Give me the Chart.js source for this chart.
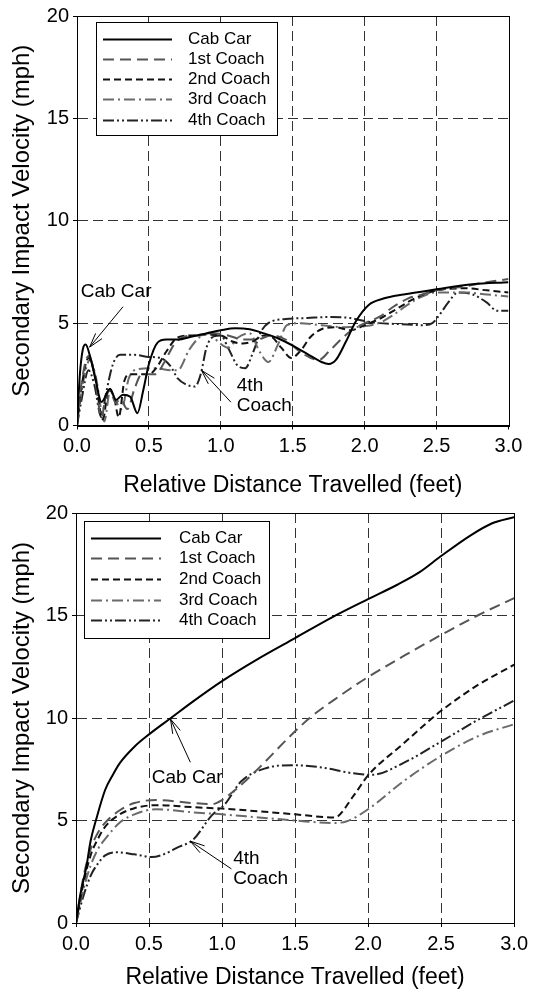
<!DOCTYPE html>
<html>
<head>
<meta charset="utf-8">
<script src="https://cdn.jsdelivr.net/npm/chart.js@4.4.0/dist/chart.umd.min.js"></script>
<style>
  body { margin: 0; background: #fff; }
  canvas { display: block; }
</style>
</head>
<body>
<canvas id="chartTop" width="533" height="497"></canvas>
<canvas id="chartBottom" width="533" height="498"></canvas>
<script>
const FONT = "'Liberation Sans', Arial, sans-serif";

const seriesNames = ['Cab Car', '1st Coach', '2nd Coach', '3rd Coach', '4th Coach'];
const seriesColors = ['#000000', '#555555', '#111111', '#6a6a6a', '#222222'];
const seriesDash = [[], [11, 6], [7, 4], [11, 4, 2, 4], [11, 3, 2, 3, 2, 3]];
const xTicks = [0, 0.5, 1, 1.5, 2, 2.5, 3];
const yTicks = [0, 5, 10, 15, 20];
const xTitle = 'Relative Distance Travelled (feet)';
const yTitle = 'Secondary Impact Velocity (mph)';

// top chart
const topCabX = [0, 0.02, 0.04, 0.06, 0.09, 0.13, 0.17, 0.23, 0.27, 0.32, 0.37, 0.42, 0.46, 0.5, 0.56, 0.62, 0.7, 0.8, 0.9, 1.0, 1.1, 1.2, 1.3, 1.4, 1.5, 1.6, 1.7, 1.75, 1.8, 1.87, 1.94, 2.03, 2.13, 2.27, 2.5, 2.75, 3.0];
const topCabY = [0, 2.5, 3.7, 3.95, 3.4, 2.2, 1.15, 1.8, 1.25, 1.5, 1.4, 0.6, 1.7, 3.0, 4.05, 4.2, 4.2, 4.35, 4.5, 4.65, 4.75, 4.7, 4.5, 4.25, 3.9, 3.5, 3.1, 3.0, 3.2, 4.1, 5.1, 5.9, 6.2, 6.4, 6.65, 6.9, 7.0];
const top1stX = [0, 0.03, 0.08, 0.12, 0.17, 0.2, 0.23, 0.27, 0.3, 0.35, 0.4, 0.45, 0.55, 0.6, 0.68, 0.75, 0.85, 0.95, 1.05, 1.15, 1.25, 1.35, 1.45, 1.55, 1.68, 1.75, 1.82, 1.9, 2.0, 2.1, 2.2, 2.3, 2.4, 2.5, 2.7, 2.85, 3.0];
const top1stY = [0, 2.0, 3.4, 2.6, 0.4, 1.4, 1.7, 1.1, 1.3, 0.8, 1.8, 2.5, 2.5, 3.0, 4.0, 4.35, 4.4, 4.5, 4.4, 4.2, 4.2, 4.4, 4.2, 3.6, 3.2, 3.6, 4.1, 4.6, 5.0, 5.3, 5.8, 6.2, 6.4, 6.6, 6.8, 7.0, 7.15];
const top2ndX = [0, 0.03, 0.08, 0.12, 0.18, 0.22, 0.26, 0.29, 0.33, 0.37, 0.5, 0.55, 0.62, 0.7, 0.8, 0.9, 1.0, 1.08, 1.15, 1.22, 1.3, 1.36, 1.42, 1.49, 1.56, 1.62, 1.7, 1.8, 1.9, 2.0, 2.1, 2.2, 2.36, 2.5, 2.7, 2.85, 3.0];
const top2ndY = [0, 1.8, 3.3, 2.6, 0.3, 1.8, 1.3, 0.4, 2.2, 2.5, 2.5, 2.8, 3.6, 4.3, 4.4, 4.45, 4.4, 4.1, 4.0, 4.1, 4.4, 4.3, 3.8, 3.3, 3.7, 4.3, 4.7, 4.8, 4.65, 4.9, 5.2, 5.6, 6.25, 6.6, 6.7, 6.6, 6.5];
const top3rdX = [0, 0.03, 0.09, 0.13, 0.19, 0.23, 0.27, 0.31, 0.36, 0.42, 0.55, 0.65, 0.7, 0.78, 0.85, 0.92, 0.98, 1.05, 1.12, 1.2, 1.27, 1.33, 1.4, 1.46, 1.55, 1.7, 1.85, 2.0, 2.1, 2.2, 2.3, 2.4, 2.5, 2.7, 2.85, 3.0];
const top3rdY = [0, 1.6, 3.2, 2.4, 0.2, 1.7, 1.2, 0.8, 2.3, 2.75, 2.8, 2.7, 2.7, 3.7, 4.3, 4.5, 4.1, 3.8, 4.3, 4.5, 3.6, 3.1, 4.0, 4.9, 5.0, 4.9, 4.8, 4.85, 5.0, 5.4, 5.9, 6.3, 6.5, 6.5, 6.4, 6.3];
const top4thX = [0, 0.03, 0.08, 0.12, 0.17, 0.2, 0.25, 0.3, 0.4, 0.5, 0.58, 0.65, 0.7, 0.76, 0.82, 0.86, 0.9, 0.95, 1.0, 1.05, 1.12, 1.17, 1.22, 1.28, 1.33, 1.45, 1.6, 1.75, 1.9, 2.0, 2.1, 2.25, 2.4, 2.47, 2.52, 2.58, 2.65, 2.75, 2.85, 2.92, 3.0];
const top4thY = [0, 1.2, 2.7, 2.0, 0.4, 1.5, 3.0, 3.45, 3.45, 3.35, 3.3, 2.9, 2.3, 2.0, 1.9, 2.5, 3.8, 4.35, 4.4, 3.8, 2.9, 2.8, 3.5, 4.6, 5.0, 5.2, 5.25, 5.3, 5.25, 5.1, 5.0, 4.95, 4.9, 5.0, 5.4, 6.0, 6.5, 6.4, 6.0, 5.6, 5.6];

// bottom chart
const botCabX = [0, 0.03, 0.07, 0.1, 0.14, 0.2, 0.25, 0.3, 0.4, 0.5, 0.65, 0.8, 1.0, 1.25, 1.5, 1.75, 2.0, 2.2, 2.35, 2.5, 2.7, 2.85, 3.0];
const botCabY = [0, 1.4, 2.7, 4.0, 5.1, 6.5, 7.2, 7.8, 8.6, 9.2, 10.0, 10.8, 11.8, 12.9, 13.9, 14.9, 15.8, 16.5, 17.1, 17.9, 18.9, 19.5, 19.8];
const bot1stX = [0, 0.05, 0.1, 0.15, 0.2, 0.3, 0.4, 0.55, 0.8, 0.93, 1.0, 1.1, 1.2, 1.3, 1.45, 1.6, 1.8, 2.0, 2.25, 2.5, 2.75, 3.0];
const bot1stY = [0, 2.2, 3.6, 4.4, 4.9, 5.5, 5.85, 6.0, 5.85, 5.8, 6.0, 6.55, 7.2, 7.9, 9.0, 10.0, 11.05, 12.0, 13.05, 14.05, 15.0, 15.85];
const bot2ndX = [0, 0.05, 0.1, 0.15, 0.2, 0.3, 0.4, 0.55, 0.8, 1.0, 1.25, 1.5, 1.77, 1.9, 2.0, 2.25, 2.44, 2.5, 2.75, 3.0];
const bot2ndY = [0, 1.9, 3.3, 4.1, 4.7, 5.3, 5.6, 5.75, 5.65, 5.58, 5.45, 5.3, 5.15, 6.2, 7.2, 8.8, 10.0, 10.35, 11.6, 12.6];
const bot3rdX = [0, 0.05, 0.1, 0.15, 0.2, 0.3, 0.4, 0.55, 0.8, 1.0, 1.25, 1.5, 1.75, 1.85, 2.0, 2.24, 2.5, 2.75, 3.0];
const bot3rdY = [0, 1.6, 2.8, 3.6, 4.1, 4.9, 5.3, 5.55, 5.4, 5.3, 5.15, 5.0, 4.88, 4.95, 5.55, 6.9, 8.15, 9.1, 9.7];
const bot4thX = [0, 0.05, 0.1, 0.15, 0.2, 0.27, 0.4, 0.52, 0.6, 0.7, 0.8, 0.93, 1.02, 1.13, 1.3, 1.48, 1.67, 1.9, 2.03, 2.24, 2.5, 2.75, 3.0];
const bot4thY = [0, 1.3, 2.3, 2.9, 3.3, 3.45, 3.35, 3.22, 3.35, 3.7, 4.05, 5.25, 5.8, 6.9, 7.55, 7.7, 7.6, 7.3, 7.23, 7.8, 8.85, 9.9, 10.85];

function makeSets(xsList, ysList) {
  return seriesNames.map((name, i) => ({
    label: name,
    data: xsList[i].map((x, k) => ({ x: x, y: ysList[i][k] })),
    borderColor: seriesColors[i],
    backgroundColor: seriesColors[i],
    borderWidth: 2,
    borderDash: seriesDash[i],
    pointRadius: 0,
    showLine: true,
    fill: false,
    cubicInterpolationMode: 'monotone'
  }));
}

// frame, legend box and the arrow notes
const sketchPlugin = {
  id: 'sketch',
  afterDraw(chart, args, opts) {
    const ctx = chart.ctx;
    const a = chart.chartArea;
    const xs = chart.scales.x, ys = chart.scales.y;
    ctx.save();
    ctx.setLineDash([]);
    ctx.strokeStyle = '#000';
    ctx.lineWidth = 1;
    const l = Math.round(a.left) + 0.5, t = Math.round(a.top) + 0.5;
    const r = Math.round(a.right) + 0.5, b = Math.round(a.bottom) + 0.5;
    ctx.strokeRect(l, t, r - l, b - t);

    const L = opts.legend;
    const bx = Math.round(a.left + L.dx), by = Math.round(a.top + L.dy);
    ctx.fillStyle = '#fff';
    ctx.fillRect(bx, by, L.w, L.h);
    ctx.strokeRect(bx + 0.5, by + 0.5, L.w, L.h);
    ctx.font = L.size + 'px ' + FONT;
    ctx.textBaseline = 'middle';
    seriesNames.forEach((name, i) => {
      const ry = Math.round(by + L.row0 + i * L.gap) + 0.5;
      ctx.beginPath();
      ctx.setLineDash(seriesDash[i]);
      ctx.strokeStyle = seriesColors[i];
      ctx.lineWidth = 2;
      ctx.moveTo(bx + L.lineX, ry);
      ctx.lineTo(bx + L.lineX + L.lineLen, ry);
      ctx.stroke();
      ctx.setLineDash([]);
      ctx.fillStyle = '#000';
      ctx.fillText(name, bx + L.textX, ry);
    });

    ctx.strokeStyle = '#000';
    ctx.lineWidth = 1;
    ctx.font = opts.noteSize + 'px ' + FONT;
    ctx.textAlign = 'left';
    opts.notes.forEach(n => {
      const tx = xs.getPixelForValue(n.tip[0]), ty = ys.getPixelForValue(n.tip[1]);
      const sx = xs.getPixelForValue(n.tail[0]), sy = ys.getPixelForValue(n.tail[1]);
      ctx.beginPath();
      ctx.moveTo(sx, sy);
      ctx.lineTo(tx, ty);
      const ang = Math.atan2(sy - ty, sx - tx);
      [-0.28, 0.28].forEach(d => {
        ctx.moveTo(tx, ty);
        ctx.lineTo(tx + 15 * Math.cos(ang + d), ty + 15 * Math.sin(ang + d));
      });
      ctx.stroke();
      const px = xs.getPixelForValue(n.at[0]), py = ys.getPixelForValue(n.at[1]);
      ctx.fillStyle = '#000';
      n.text.forEach((s, k) => ctx.fillText(s, px, py + k * 20));
    });
    ctx.restore();
  }
};

function makeScales(cfg) {
  return {
    x: {
      type: 'linear', min: 0, max: 3,
      afterBuildTicks: s => { s.ticks = xTicks.map(v => ({ value: v })); },
      afterFit: s => { s.height = cfg.xHeight; },
      ticks: { color: '#000', font: { family: FONT, size: 20 }, padding: 5, maxRotation: 0, autoSkip: false,
               callback: v => Number(v).toFixed(1) },
      grid: { color: c => (c.tick && c.tick.value > 0 && c.tick.value < 3) ? '#333' : 'rgba(0,0,0,0)',
              tickBorderDash: [], tickColor: '#000', tickLength: 4, lineWidth: 1 },
      border: { display: true, color: '#000', width: 1, dash: [10, 5] },
      title: { display: true, text: xTitle, color: '#000', font: { family: FONT, size: 23, lineHeight: 1 },
               padding: { top: 0, bottom: cfg.xTitlePad } }
    },
    y: {
      type: 'linear', min: 0, max: 20,
      afterBuildTicks: s => { s.ticks = yTicks.map(v => ({ value: v })); },
      afterFit: s => { s.width = cfg.yWidth; },
      ticks: { color: '#000', font: { family: FONT, size: 20 }, padding: 4 },
      grid: { color: c => (c.tick && c.tick.value > 0 && c.tick.value < 20) ? '#333' : 'rgba(0,0,0,0)',
              tickBorderDash: [], tickColor: '#000', tickLength: 4, lineWidth: 1 },
      border: { display: true, color: '#000', width: 1, dash: [10, 5] },
      title: { display: true, text: yTitle, color: '#000', font: { family: FONT, size: 24, lineHeight: 1 },
               padding: { top: 10, bottom: 0 } }
    }
  };
}

function makeChart(id, sets, cfg, sketch) {
  return new Chart(document.getElementById(id), {
    type: 'scatter',
    data: { datasets: sets },
    options: {
      responsive: false,
      animation: false,
      devicePixelRatio: 1,
      layout: { padding: cfg.pad },
      scales: makeScales(cfg),
      plugins: { legend: { display: false }, tooltip: { enabled: false }, sketch: sketch }
    },
    plugins: [sketchPlugin]
  });
}

makeChart('chartTop',
  makeSets([topCabX, top1stX, top2ndX, top3rdX, top4thX], [topCabY, top1stY, top2ndY, top3rdY, top4thY]),
  { pad: { top: 13, right: 24.5, left: 0, bottom: 0 }, yWidth: 77, xHeight: 71.5, xTitlePad: 0 },
  {
    legend: { dx: 19, dy: 6, w: 181, h: 113, row0: 16.5, gap: 20.3, lineX: 7, lineLen: 69, textX: 92, size: 17 },
    noteSize: 19,
    notes: [
      { text: ['Cab Car'], at: [0.026, 6.53], tip: [0.088, 3.83], tail: [0.32, 5.8] },
      { text: ['4th', 'Coach'], at: [1.111, 1.92], tip: [0.866, 2.69], tail: [1.07, 1.14] }
    ]
  });

makeChart('chartBottom',
  makeSets([botCabX, bot1stX, bot2ndX, bot3rdX, bot4thX], [botCabY, bot1stY, bot2ndY, bot3rdY, bot4thY]),
  { pad: { top: 10, right: 13.5, left: 0, bottom: 0 }, yWidth: 76, xHeight: 72, xTitlePad: 6 },
  {
    legend: { dx: 8, dy: 8, w: 185, h: 117, row0: 16.7, gap: 20.6, lineX: 7, lineLen: 70, textX: 95, size: 17 },
    noteSize: 19,
    notes: [
      { text: ['Cab Car'], at: [0.519, 7.07], tip: [0.647, 9.95], tail: [0.783, 7.84] },
      { text: ['4th', 'Coach'], at: [1.076, 3.13], tip: [0.783, 3.99], tail: [1.064, 2.64] }
    ]
  });
</script>
</body>
</html>
